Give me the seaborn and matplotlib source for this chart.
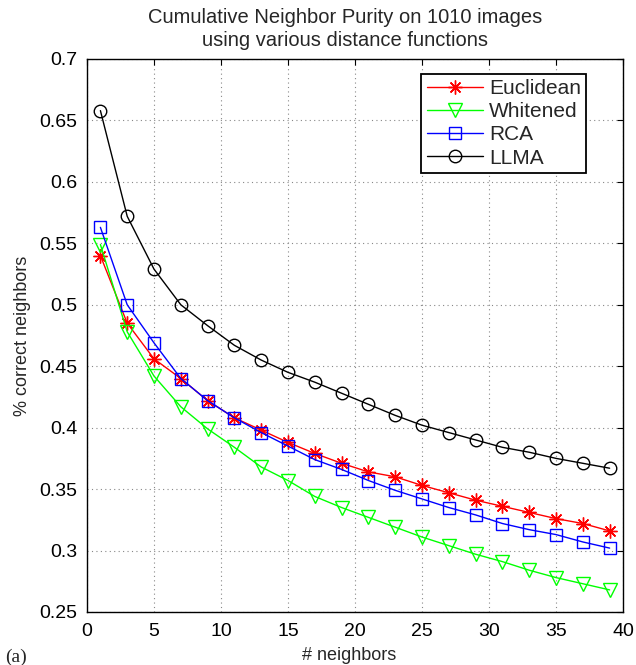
import numpy as np
import pandas as pd
import seaborn as sns
import matplotlib
matplotlib.use("Agg")
import matplotlib.pyplot as plt

neighbors = [1, 3, 5, 7, 9, 11, 13, 15, 17, 19, 21, 23, 25, 27, 29, 31, 33, 35, 37, 39]
euclidean = [0.540, 0.485, 0.456, 0.440, 0.422, 0.408, 0.398, 0.388, 0.379, 0.371,
             0.364, 0.360, 0.353, 0.347, 0.341, 0.336, 0.331, 0.326, 0.322, 0.316]
whitened = [0.549, 0.478, 0.442, 0.417, 0.399, 0.384, 0.368, 0.357, 0.344, 0.335,
            0.327, 0.319, 0.311, 0.304, 0.297, 0.291, 0.284, 0.278, 0.273, 0.268]
rca = [0.563, 0.500, 0.469, 0.440, 0.422, 0.408, 0.396, 0.385, 0.374, 0.366,
       0.357, 0.349, 0.342, 0.335, 0.329, 0.322, 0.317, 0.313, 0.307, 0.302]
llma = [0.658, 0.572, 0.529, 0.500, 0.483, 0.467, 0.455, 0.445, 0.437, 0.428,
        0.419, 0.410, 0.402, 0.396, 0.390, 0.384, 0.380, 0.375, 0.371, 0.367]
series_names = ["Euclidean", "Whitened", "RCA", "LLMA"]
xticks = [0, 5, 10, 15, 20, 25, 30, 35, 40]
yticks = [0.25, 0.3, 0.35, 0.4, 0.45, 0.5, 0.55, 0.6, 0.65, 0.7]

sns.set_theme(style="white")
plt.rcParams['font.family'] = ['Liberation Sans', 'DejaVu Sans']

df = pd.DataFrame({
    "neighbors": neighbors * 4,
    "value": euclidean + whitened + rca + llma,
    "method": sum([[n] * len(neighbors) for n in series_names], []),
})

colors = {"Euclidean": "#ff0000", "Whitened": "#00ff00", "RCA": "#0000ff", "LLMA": "#000000"}
markers = {"Euclidean": (8, 2, 0), "Whitened": "v", "RCA": "s", "LLMA": "o"}
msizes = {"Euclidean": 10, "Whitened": 10, "RCA": 8, "LLMA": 9}

fig = plt.figure(figsize=(6.36, 6.65), dpi=100)
ax = fig.add_axes([0.1368, 0.0797, 0.9796 - 0.1368, 0.9113 - 0.0797])

for name in series_names:
    sub = df[df["method"] == name]
    sns.lineplot(data=sub, x="neighbors", y="value", ax=ax, color=colors[name],
                 linewidth=1.0, label=name, legend=False)
    line = ax.lines[-1]
    line.set_marker(markers[name])
    line.set_markersize(msizes[name])
    line.set_markerfacecolor("none")
    line.set_markeredgecolor(colors[name])
    line.set_markeredgewidth(1.0)

ax.set_xlim(0, 40)
ax.set_ylim(0.25, 0.7)
ax.set_xticks(xticks)
ax.set_yticks(yticks)
ax.set_xticklabels([str(t) for t in xticks])
ax.set_yticklabels([f"{t:g}" for t in yticks])
ax.tick_params(direction="in", length=4, width=0.8, top=True, right=True,
               labelsize=14, colors="black")
ax.tick_params(axis="y", pad=7)
ax.tick_params(axis="x", pad=8)
ax.grid(True, linestyle=(0, (1, 3)), color="#888888", linewidth=0.8)
for sp in ax.spines.values():
    sp.set_color("black")
    sp.set_linewidth(1.0)

ax.set_xlabel("# neighbors", fontsize=13, labelpad=5, x=0.489)
ax.set_ylabel("% correct neighbors", fontsize=13, labelpad=6)
ax.set_title("Cumulative Neighbor Purity on 1010 images\nusing various distance functions",
             fontsize=14.5, pad=9, linespacing=1.3, x=0.482)

leg = ax.legend(loc="upper right", bbox_to_anchor=(0.9315, 0.973), fontsize=15,
                frameon=True, fancybox=False, handlelength=2.7, borderpad=0.25,
                labelspacing=0.2, handletextpad=0.3, borderaxespad=0)
leg.get_frame().set_edgecolor("black")
leg.get_frame().set_linewidth(1.3)
leg.get_frame().set_alpha(1)

fig.text(0.008, 0.005, "(a)", fontsize=14, family="Liberation Serif")

fig.savefig("out.png", dpi=100)
